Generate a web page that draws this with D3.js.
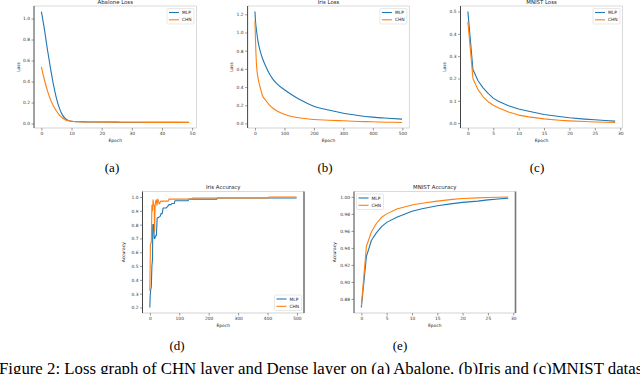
<!DOCTYPE html>
<html>
<head>
<meta charset="utf-8">
<script src="https://cdn.jsdelivr.net/npm/d3@7"></script>
<style>
    body { margin: 0; background: #fff; }
    svg { display: block; font-family: "DejaVu Sans", sans-serif; }
    .cap { font-family: "Liberation Serif", "Times New Roman", serif; fill: #000; }
</style>
</head>
<body>
<div id="chart"></div>
<script>
// Abalone loss
const abaloneEpochs = [0, 1, 2, 3, 4, 5, 6, 7, 8, 9, 10, 12, 15, 20, 25, 30, 35, 40, 45, 49];
const abaloneMlp = [1.067, 0.90, 0.705, 0.53, 0.37, 0.24, 0.144, 0.08, 0.045, 0.028, 0.021, 0.017, 0.015, 0.014, 0.013, 0.012, 0.012, 0.011, 0.011, 0.011];
const abaloneChn = [0.54, 0.417, 0.314, 0.23, 0.167, 0.119, 0.08, 0.052, 0.034, 0.026, 0.021, 0.017, 0.015, 0.013, 0.012, 0.012, 0.011, 0.011, 0.011, 0.010];

// Iris loss
const irisLossEpochs = [0, 2, 5, 10, 15, 20, 25, 35, 50, 60, 75, 100, 125, 150, 175, 200, 250, 300, 350, 400, 450, 499];
const irisLossMlp = [1.23, 1.12, 1.03, 0.91, 0.83, 0.77, 0.72, 0.64, 0.54, 0.49, 0.435, 0.37, 0.315, 0.265, 0.225, 0.19, 0.147, 0.112, 0.088, 0.07, 0.058, 0.048];
const irisLossChn = [1.13, 0.9, 0.66, 0.51, 0.43, 0.37, 0.31, 0.26, 0.2, 0.17, 0.136, 0.1, 0.076, 0.062, 0.052, 0.044, 0.036, 0.029, 0.022, 0.018, 0.014, 0.011];

// MNIST loss
const mnistLossEpochs = [0, 1, 2, 3, 4, 5, 6, 8, 10, 12, 15, 18, 20, 23, 25, 27, 29];
const mnistLossMlp = [0.5, 0.24, 0.19, 0.158, 0.133, 0.112, 0.098, 0.078, 0.063, 0.053, 0.039, 0.03, 0.024, 0.018, 0.015, 0.012, 0.009];
const mnistLossChn = [0.455, 0.2, 0.15, 0.118, 0.096, 0.08, 0.069, 0.05, 0.036, 0.028, 0.019, 0.013, 0.01, 0.007, 0.005, 0.004, 0.003];

// Iris accuracy (step-like, each series has its own epochs)
const irisAccMlpEpochs = [0, 1, 3, 5, 7, 9, 10, 13, 15, 17, 20, 22, 25, 28, 35, 38, 42, 45, 55, 60, 65, 72, 75, 83, 85, 130, 133, 227, 230, 499];
const irisAccMlp = [0.2, 0.28, 0.33, 0.35, 0.5, 0.55, 0.8, 0.8, 0.7, 0.7, 0.72, 0.72, 0.85, 0.85, 0.86, 0.88, 0.88, 0.92, 0.92, 0.93, 0.945, 0.945, 0.953, 0.953, 0.973, 0.973, 0.985, 0.985, 0.993, 0.993];
const irisAccChnEpochs = [0, 1, 2, 5, 6, 7, 9, 11, 13, 15, 16, 18, 20, 22, 24, 27, 32, 37, 62, 65, 142, 145, 403, 405, 499];
const irisAccChn = [0.32, 0.5, 0.66, 0.67, 0.8, 0.94, 0.9, 0.98, 0.94, 0.94, 0.75, 0.94, 0.97, 0.98, 0.94, 0.985, 0.95, 0.97, 0.97, 0.985, 0.985, 0.993, 0.993, 1.0, 1.0];

// MNIST accuracy
const mnistAccEpochs = [0, 1, 2, 3, 4, 5, 7, 10, 12, 15, 18, 20, 23, 25, 27, 29];
const mnistAccMlp = [0.870, 0.930, 0.949, 0.958, 0.965, 0.970, 0.976, 0.983, 0.986, 0.9895, 0.992, 0.9935, 0.995, 0.9965, 0.9975, 0.9985];
const mnistAccChn = [0.872, 0.942, 0.959, 0.969, 0.976, 0.980, 0.9857, 0.9905, 0.9925, 0.995, 0.997, 0.998, 0.9988, 0.9993, 0.9996, 0.9998];

// Tick labels
const xTicks50 = [0, 10, 20, 30, 40, 50];
const xTicks500 = [0, 100, 200, 300, 400, 500];
const xTicks30 = [0, 5, 10, 15, 20, 25, 30];
const abaloneYTicks = [0.0, 0.2, 0.4, 0.6, 0.8, 1.0];
const irisLossYTicks = [0.0, 0.2, 0.4, 0.6, 0.8, 1.0, 1.2];
const mnistLossYTicks = [0.0, 0.1, 0.2, 0.3, 0.4, 0.5];
const irisAccYTicks = [0.2, 0.3, 0.4, 0.5, 0.6, 0.7, 0.8, 0.9, 1.0];
const mnistAccYTicks = [0.88, 0.90, 0.92, 0.94, 0.96, 0.98, 1.00];

const seriesNames = ["MLP", "CHN"];
const subLabels = ["(a)", "(b)", "(c)", "(d)", "(e)"];
const caption = "Figure 2: Loss graph of CHN layer and Dense layer on (a) Abalone, (b)Iris and (c)MNIST dataset";

const colors = ["#1f77b4", "#ff7f0e"];
const W = 640, H = 374;

const zip = (xs, ys) => xs.map((x, i) => ({ x: x, y: ys[i] }));

const panels = [
    { title: "Abalone Loss", ylabel: "Loss", box: [34, 196.5, 6, 128], xt: xTicks50, yt: abaloneYTicks, yf: ".1f", smooth: true,
      series: [zip(abaloneEpochs, abaloneMlp), zip(abaloneEpochs, abaloneChn)], legend: "ur", yl: 14.5, cap: [112, 172] },
    { title: "Iris Loss", ylabel: "Loss", box: [247.6, 409.4, 6, 128], xt: xTicks500, yt: irisLossYTicks, yf: ".1f", smooth: true,
      series: [zip(irisLossEpochs, irisLossMlp), zip(irisLossEpochs, irisLossChn)], legend: "ur", yl: 14.5, cap: [325, 172] },
    { title: "MNIST Loss", ylabel: "Loss", box: [460.5, 622.5, 6, 128], xt: xTicks30, yt: mnistLossYTicks, yf: ".1f", smooth: false,
      series: [zip(mnistLossEpochs, mnistLossMlp), zip(mnistLossEpochs, mnistLossChn)], legend: "ur", yl: 14.5, cap: [537, 172] },
    { title: "Iris Accuracy", ylabel: "Accuracy", box: [142.5, 304, 191.5, 313], xt: xTicks500, yt: irisAccYTicks, yf: ".1f", smooth: false,
      series: [zip(irisAccMlpEpochs, irisAccMlp), zip(irisAccChnEpochs, irisAccChn)], legend: "lr", yl: 18, cap: [177, 350], darkRight: true },
    { title: "MNIST Accuracy", ylabel: "Accuracy", box: [354, 515.5, 191.5, 313], xt: xTicks30, yt: mnistAccYTicks, yf: ".2f", smooth: false,
      series: [zip(mnistAccEpochs, mnistAccMlp), zip(mnistAccEpochs, mnistAccChn)], legend: "ul", yl: 18.5, cap: [400, 350], darkRight: true }
];

const svg = d3.select("#chart").append("svg")
    .attr("width", W)
    .attr("height", H);

// pad extent by 5% like matplotlib autoscale
function padded(vals) {
    const [lo, hi] = d3.extent(vals);
    const m = (hi - lo) * 0.05;
    return [lo - m, hi + m];
}

panels.forEach((p, i) => {
    const [l, r, t, b] = p.box;
    const all = p.series.flat();
    const x = d3.scaleLinear().domain(padded(all.map(d => d.x))).range([l, r]);
    const y = d3.scaleLinear().domain(padded(all.map(d => d.y))).range([b, t]);
    const g = svg.append("g");

    // frame
    g.append("line").attr("x1", l).attr("x2", r).attr("y1", t).attr("y2", t).attr("stroke", "#d0d0d0").attr("stroke-width", 0.8);
    g.append("line").attr("x1", l).attr("x2", r).attr("y1", b).attr("y2", b).attr("stroke", "#c8c8c8").attr("stroke-width", 0.8);
    g.append("line").attr("x1", r).attr("x2", r).attr("y1", t).attr("y2", b)
        .attr("stroke", p.darkRight ? "#777" : "#d0d0d0").attr("stroke-width", p.darkRight ? 1.6 : 0.8);
    g.append("line").attr("x1", l).attr("x2", l).attr("y1", t).attr("y2", b).attr("stroke", "#444").attr("stroke-width", 1);

    const xAxis = g.append("g")
        .attr("transform", "translate(0," + b + ")")
        .call(d3.axisBottom(x).tickValues(p.xt).tickFormat(d3.format("d")).tickSize(2.5).tickPadding(1.5));
    const yAxis = g.append("g")
        .attr("transform", "translate(" + l + ",0)")
        .call(d3.axisLeft(y).tickValues(p.yt).tickFormat(d3.format(p.yf)).tickSize(2.5).tickPadding(1.5));
    [xAxis, yAxis].forEach(ax => {
        ax.select(".domain").remove();
        ax.selectAll("line").attr("stroke", "#555").attr("stroke-width", 0.6);
        ax.selectAll("text").attr("font-size", 4.4).attr("fill", "#333").attr("font-family", "DejaVu Sans");
    });

    const line = d3.line().x(d => x(d.x)).y(d => y(d.y))
        .curve(p.smooth ? d3.curveMonotoneX : d3.curveLinear);
    p.series.forEach((s, k) => {
        g.append("path")
            .datum(s)
            .attr("d", line)
            .attr("fill", "none")
            .attr("stroke", colors[k])
            .attr("stroke-width", 1.1)
            .attr("stroke-linejoin", "round");
    });

    // title and labels
    g.append("text").attr("x", (l + r) / 2).attr("y", t - 2.3)
        .attr("text-anchor", "middle").attr("font-size", 5.4).attr("fill", "#222").text(p.title);
    g.append("text").attr("x", (l + r) / 2).attr("y", b + 14)
        .attr("text-anchor", "middle").attr("font-size", 4.4).attr("fill", "#222").text("Epoch");
    g.append("text")
        .attr("transform", "translate(" + (l - p.yl) + "," + ((t + b) / 2) + ") rotate(-90)")
        .attr("text-anchor", "middle").attr("font-size", 4.4).attr("fill", "#222").text(p.ylabel);

    // legend
    const lw = 27, lh = 15.5;
    const lx = p.legend === "ul" ? l + 2.5 : r - 2.5 - lw;
    const ly = p.legend === "lr" ? b - 2.5 - lh : t + 2.5;
    const leg = g.append("g").attr("transform", "translate(" + lx + "," + ly + ")");
    leg.append("rect").attr("width", lw).attr("height", lh).attr("rx", 1)
        .attr("fill", "#fff").attr("fill-opacity", 0.85).attr("stroke", "#d8d8d8").attr("stroke-width", 0.6);
    seriesNames.forEach((name, k) => {
        const yy = 4 + k * 7.3;
        leg.append("line").attr("x1", 2).attr("x2", 12).attr("y1", yy).attr("y2", yy)
            .attr("stroke", colors[k]).attr("stroke-width", 1.1);
        leg.append("text").attr("x", 15).attr("y", yy + 1.6)
            .attr("font-size", 4.4).attr("fill", "#222").text(name);
    });

    // sub-figure label
    svg.append("text").attr("class", "cap")
        .attr("x", p.cap[0]).attr("y", p.cap[1])
        .attr("text-anchor", "middle").attr("font-size", 13).text(subLabels[i]);
});

// caption runs past the right edge, as in the source crop
svg.append("text").attr("class", "cap")
    .attr("x", -1).attr("y", 374)
    .attr("font-size", 16.8).text(caption);
</script>
</body>
</html>
